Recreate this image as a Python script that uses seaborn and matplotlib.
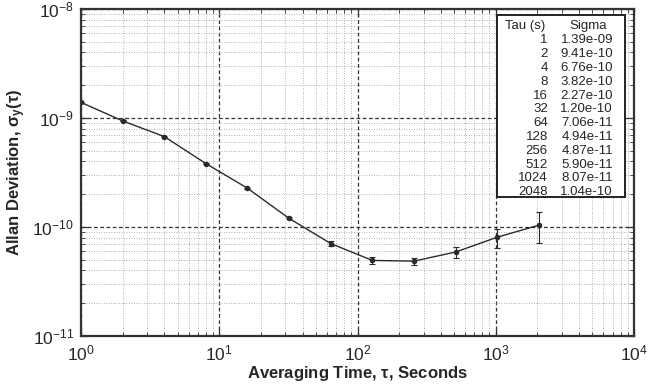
import numpy as np
import pandas as pd
import seaborn as sns
import matplotlib.pyplot as plt
from matplotlib.patches import Rectangle
from matplotlib.ticker import LogLocator, FuncFormatter, NullFormatter

tau = [1, 2, 4, 8, 16, 32, 64, 128, 256, 512, 1024, 2048]
sigma = [1.39e-09, 9.41e-10, 6.76e-10, 3.82e-10, 2.27e-10, 1.20e-10,
         7.06e-11, 4.94e-11, 4.87e-11, 5.90e-11, 8.07e-11, 1.04e-10]
sigma_err = [1.5e-11, 1.2e-11, 9e-12, 5e-12, 3e-12, 2.5e-12,
             3.5e-12, 3.5e-12, 3.5e-12, 7e-12, 1.6e-11, 3.2e-11]
tau_labels = ['1', '2', '4', '8', '16', '32', '64', '128', '256', '512', '1024', '2048']
sigma_labels = ['1.39e-09', '9.41e-10', '6.76e-10', '3.82e-10', '2.27e-10', '1.20e-10',
                '7.06e-11', '4.94e-11', '4.87e-11', '5.90e-11', '8.07e-11', '1.04e-10']

df = pd.DataFrame({'tau': tau, 'sigma': sigma, 'err': sigma_err})

sns.set_style('ticks')
plt.rcParams['font.family'] = ['Liberation Sans', 'DejaVu Sans']
plt.rcParams['mathtext.fontset'] = 'custom'
plt.rcParams['mathtext.rm'] = 'Liberation Sans'
plt.rcParams['mathtext.it'] = 'Liberation Serif:italic'
plt.rcParams['mathtext.default'] = 'regular'

fig = plt.figure(figsize=(6.51, 3.89), dpi=100)
ax = fig.add_axes([0.1244, 0.136, 0.8496, 0.841])

sns.lineplot(data=df, x='tau', y='sigma', color='#2a2a2a', lw=1.0,
             marker='o', markersize=4, markeredgewidth=0, ax=ax)
ax.errorbar(tau, sigma, yerr=sigma_err, fmt='none', ecolor='#2a2a2a',
            elinewidth=0.8, capsize=2.5, capthick=0.8)

ax.set_xscale('log')
ax.set_yscale('log')
ax.set_xlim(1, 1e4)
ax.set_ylim(1e-11, 1e-8)

ax.xaxis.set_major_locator(LogLocator(base=10, numticks=10))
ax.yaxis.set_major_locator(LogLocator(base=10, numticks=10))
ax.xaxis.set_minor_locator(LogLocator(base=10, subs=np.arange(2, 10), numticks=20))
ax.yaxis.set_minor_locator(LogLocator(base=10, subs=np.arange(2, 10), numticks=20))
fmt = FuncFormatter(lambda v, p: r'$10^{%d}$' % int(round(np.log10(v))))
ax.xaxis.set_major_formatter(fmt)
ax.yaxis.set_major_formatter(fmt)
ax.xaxis.set_minor_formatter(NullFormatter())
ax.yaxis.set_minor_formatter(NullFormatter())

ax.grid(which='major', ls=(0, (3, 2)), color='#333333', lw=0.9)
ax.grid(which='minor', ls=(0, (1, 2)), color='#999999', lw=0.6)
ax.tick_params(which='both', direction='in', top=True, right=True,
               labelsize=12.5, color='#333333')
ax.tick_params(axis='x', which='major', pad=5)
ax.tick_params(axis='y', which='major', pad=5)
ax.tick_params(which='major', length=5, width=0.9)
ax.tick_params(which='minor', length=3, width=0.6)
for s in ax.spines.values():
    s.set_linewidth(1.6)
    s.set_color('#333333')

ax.set_xlabel(r'Averaging Time, $\tau$, Seconds', fontsize=12, fontweight='bold', labelpad=1)
ax.set_ylabel(r'Allan Deviation, $\sigma_y(\tau)$', fontsize=12, fontweight='bold', labelpad=3)

# table box in the upper right
ax.add_patch(Rectangle((0.752, 0.424), 0.232, 0.558, transform=ax.transAxes,
                       facecolor='white', edgecolor='#222222', lw=1.4, zorder=5))
ax.text(0.767, 0.947, 'Tau (s)', transform=ax.transAxes, fontsize=9.5,
        ha='left', va='center', zorder=6)
ax.text(0.917, 0.947, 'Sigma', transform=ax.transAxes, fontsize=9.5,
        ha='center', va='center', zorder=6)
for i, (t, s) in enumerate(zip(tau_labels, sigma_labels)):
    yy = 0.904 - i * 0.0422
    ax.text(0.844, yy, t, transform=ax.transAxes, fontsize=9.5,
            ha='right', va='center', zorder=6)
    ax.text(0.962, yy, s, transform=ax.transAxes, fontsize=9.5,
            ha='right', va='center', zorder=6)

fig.savefig('out.png', dpi=100)
